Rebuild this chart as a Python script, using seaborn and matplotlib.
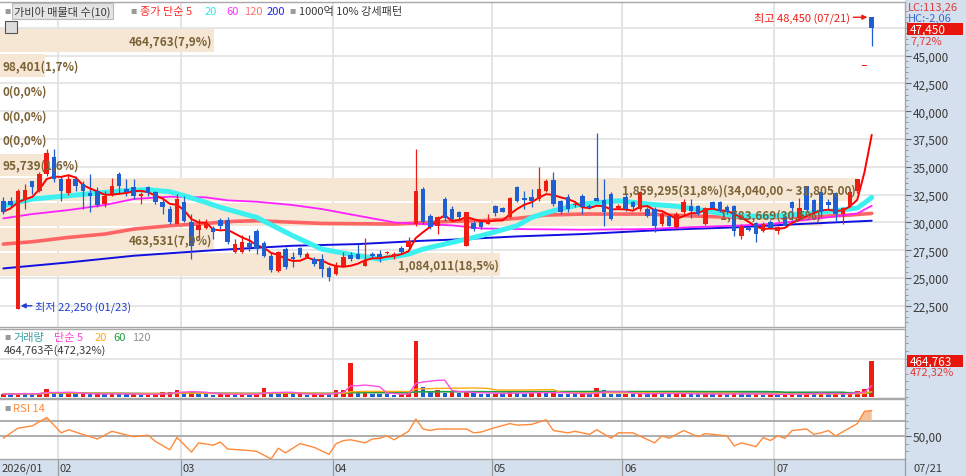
import numpy as np
import pandas as pd
import matplotlib
matplotlib.use('Agg')
import matplotlib.pyplot as plt
import matplotlib.transforms as mtrans
from matplotlib.patches import Rectangle
import seaborn as sns

# ---------------- data ----------------
month_labels = ['2026/01', '02', '03', '04', '05', '06', '07']
month_start = [0, 8, 25, 46, 68, 86, 107]
last_date = '07/21'

opens = [31950, 31950, 22250, 32040, 33700, 32850, 34350, 35850,
         33900, 32640, 33900, 33450, 32640, 32850, 31650, 32550, 34350, 33000, 33150, 32400, 33150, 32700, 31800, 31200, 29850,
         31800, 30000, 29340, 29520, 29490, 30240, 30200, 27300, 27300, 28140, 29250, 28140, 27000, 25650, 27600, 26910, 27660, 26850, 26700, 26700, 25860,
         25350, 26040, 27060, 27150, 26100, 27150, 27150, 27240, 27000, 27660, 27750, 29850, 33000, 30600, 29640, 32100, 31200, 30900, 27900, 29940, 30000, 29850,
         31500, 31260, 30450, 33150, 32160, 32250, 32100, 32850, 33840, 31950, 32250, 31560, 32400, 31500, 32190, 32010, 32550, 31260,
         32250, 31800, 31200, 31200, 31200, 29850, 30600, 29600, 30900, 31500, 31440, 29850, 31800, 31860, 31350, 31500, 28800, 29460, 29910, 29250, 30060,
         29250, 30450, 31860, 30400, 33250, 32040, 32700, 31800, 32640, 30755, 31500, 32800, 44050, 48450]
highs = [32250, 32250, 33000, 33450, 33760, 34560, 36600, 36600,
         34200, 34350, 34200, 33700, 34350, 33150, 32850, 33950, 34500, 33900, 33900, 32700, 33300, 32850, 32100, 31500, 32550,
         32400, 30750, 30300, 30300, 29700, 30360, 30450, 28500, 28860, 28860, 29400, 28350, 27240, 27450, 27750, 27300, 27750, 27300, 26850, 27150, 26040,
         26400, 27360, 27360, 28050, 28560, 27300, 27540, 27450, 27300, 27900, 28650, 36600, 33150, 30750, 30600, 32250, 31500, 31050, 30900, 30150, 30150, 30750,
         31560, 31350, 32250, 33300, 32850, 33000, 34950, 33900, 34560, 32040, 32550, 31800, 32550, 31650, 38040, 33900, 32700, 31650,
         32550, 31950, 32850, 31350, 31350, 30900, 30750, 30900, 32100, 32100, 31560, 31350, 31950, 31950, 31560, 31560, 29850, 29700, 30000, 30000, 30240,
         29700, 30600, 31950, 32150, 33300, 32100, 32760, 32100, 32700, 31350, 32950, 33900, 44050, 48450]
lows = [30750, 31350, 22250, 31200, 32560, 32700, 34200, 33600,
        31950, 32500, 32850, 31200, 30900, 31350, 31350, 32400, 32550, 32400, 32100, 31650, 32400, 31650, 30750, 29850, 29850,
        30000, 26700, 28500, 29400, 28500, 29400, 28050, 27240, 27240, 27450, 27150, 26850, 25500, 25560, 25800, 25950, 26850, 26760, 26100, 25050, 24750,
        25260, 25950, 26550, 26700, 26100, 26850, 26460, 27150, 26700, 27240, 27540, 29700, 29850, 29400, 28950, 30150, 30150, 30300, 27900, 29250, 29400, 29850,
        30600, 30900, 30360, 31800, 31200, 31350, 31950, 32700, 31500, 30750, 30900, 31350, 30750, 31200, 31900, 29700, 30240, 31200,
        31050, 31200, 31050, 30450, 29100, 29700, 29640, 29460, 30750, 30360, 30660, 29760, 31200, 30900, 30750, 28800, 28500, 29250, 28260, 29100, 29400,
        28950, 29640, 30200, 30200, 31050, 30750, 30450, 31200, 30150, 29850, 31350, 32650, 44050, 45900]
closes = [30960, 31560, 32850, 32940, 33160, 34350, 36210, 33900,
          32850, 33900, 33300, 32850, 32340, 31560, 32400, 33300, 33250, 32700, 32400, 32550, 32650, 31800, 31350, 30000, 32100,
          30150, 27900, 29790, 29910, 29100, 29700, 28200, 28050, 28200, 27750, 27600, 27000, 25740, 27300, 25950, 26700, 27060, 27150, 26250, 25800, 25050,
          26100, 26850, 26700, 26750, 26550, 27000, 26910, 27360, 27120, 27300, 28350, 32850, 30000, 29550, 30450, 30360, 30300, 30450, 30900, 29400, 29550, 30150,
          30840, 30960, 32160, 31950, 32040, 31950, 33000, 33750, 31650, 30900, 31200, 31680, 31350, 31320, 31950, 30900, 30300, 31500,
          31200, 31350, 32700, 30600, 29700, 30750, 29700, 30800, 31860, 31050, 30750, 31260, 31260, 31050, 30900, 29250, 29700, 29310, 28950, 29850, 29460,
          29550, 29700, 31250, 31260, 31100, 30900, 30900, 31560, 30750, 31265, 32700, 33880, 44050, 47450]
volumes = [35000, 28000, 52000, 45000, 30000, 48000, 95739, 60000,
           42000, 50000, 33000, 38000, 31000, 40000, 36000, 44000, 38000, 30000, 34000, 26000, 30000, 41000, 57000, 57000, 89000,
           62000, 70000, 40000, 30000, 25000, 34000, 38000, 30000, 36000, 28000, 33000, 110000, 66000, 40000, 45000, 30000, 35000, 28000, 31000, 40000, 36000,
           90000, 92000, 447000, 60000, 75000, 40000, 36000, 30000, 27000, 33000, 45000, 736000, 124000, 80000, 93000, 55000, 60000, 45000, 70000, 48000, 40000, 36000,
           42000, 38000, 65000, 55000, 40000, 45000, 70000, 52000, 60000, 40000, 36000, 30000, 38000, 33000, 115000, 89000, 42000, 35000,
           40000, 33000, 45000, 38000, 50000, 42000, 36000, 40000, 45000, 33000, 30000, 38000, 32000, 36000, 30000, 48000, 42000, 30000, 36000, 28000, 32000,
           26000, 33000, 45000, 38000, 52000, 40000, 48000, 30000, 45000, 36000, 55000, 70000, 98401, 464763]

ma20_idx = [0, 4, 9, 14, 18, 20, 23, 25, 28, 30, 35, 40, 44, 49, 52, 56, 58, 62, 66, 71, 73, 76, 80, 85, 89, 93, 97, 101, 106, 110, 115, 118, 119, 120]
ma20_val = [31500, 32100, 32400, 32700, 32910, 32940, 32760, 32400, 31800, 31350, 30450, 28800, 27600, 27000, 26700, 27150, 27600, 28200, 28800, 29700,
            30450, 31050, 31650, 31950, 31650, 31450, 31050, 30600, 30540, 30750, 31050, 31300, 31750, 32250]
ma60_idx = [0, 4, 9, 14, 18, 23, 28, 31, 35, 40, 44, 49, 54, 58, 62, 66, 71, 80, 89, 93, 101, 106, 110, 115, 118, 120]
ma60_val = [30360, 30750, 31110, 31560, 32100, 32310, 32250, 31980, 31860, 31560, 31200, 30600, 30000, 29850, 29730, 29460, 29400, 29340, 29400, 29520,
            29700, 29850, 30150, 30540, 30800, 31500]
ma120_idx = [0, 4, 9, 14, 18, 23, 28, 32, 35, 44, 54, 62, 66, 71, 75, 80, 89, 93, 101, 110, 117, 120]
ma120_val = [28050, 28260, 28650, 28950, 29400, 29700, 29910, 30100, 30150, 29910, 29850, 30100, 30150, 30360, 30660, 30750, 30750, 30630, 30450, 30450,
             30660, 30810]
ma200_idx = [0, 9, 18, 28, 31, 40, 49, 58, 62, 71, 80, 89, 93, 101, 110, 120]
ma200_val = [25860, 26400, 27000, 27450, 27570, 27900, 28050, 28350, 28450, 28740, 28950, 29250, 29370, 29550, 29850, 30150]

rsi_idx = [0, 2, 4, 6, 8, 9, 13, 15, 18, 20, 21, 23, 24, 26, 27, 29, 30, 31, 34, 35, 37, 38, 39, 41, 43, 45, 46, 47, 48, 50, 51, 52, 53, 54, 56, 57,
           58, 59, 60, 64, 65, 66, 68, 70, 71, 73, 75, 76, 78, 79, 81, 82, 84, 85, 87, 90, 91, 92, 94, 96, 97, 100, 101, 102, 104, 105, 106, 107,
           108, 109, 111, 112, 113, 114, 115, 118, 119, 120]
rsi_val = [47, 60, 63, 74, 54, 58, 46, 56, 49, 51, 43, 32, 48, 29, 41, 38, 42, 33, 31, 30, 20, 34, 28, 40, 35, 26, 40, 44, 45, 41, 46, 47, 50, 45, 56, 72,
           59, 57, 59, 59, 54, 55, 61, 66, 64, 65, 71, 57, 54, 56, 52, 58, 47, 54, 54, 41, 50, 47, 57, 49, 53, 50, 37, 41, 36, 48, 44, 50,
           47, 57, 59, 52, 54, 57, 50, 66, 82, 83]

band_lo = [25100, 27335, 29570, 31805, 34040, 36275, 38510, 40745, 42980, 45215]
band_hi = [27335, 29570, 31805, 34040, 36275, 38510, 40745, 42980, 45215, 47450]
band_vol = [1084011, 463531, 1783669, 1859295, 95739, 0, 0, 0, 98401, 464763]

price_ticks = [22500, 25000, 27500, 30000, 32500, 35000, 37500, 40000, 42500, 45000]

# ---------------- style ----------------
sns.set_theme(style='white')
plt.rcParams['font.family'] = ['Noto Sans CJK KR', 'DejaVu Sans']
plt.rcParams['axes.unicode_minus'] = False

W, H = 966, 477
fig = plt.figure(figsize=(W / 100, H / 100), dpi=100)
fig.patch.set_facecolor('white')

def fx(px):
    return px / W

def fy(py):
    return 1 - py / H

STRIP = '#d5e0ee'
GRID = '#e2e2e2'
BORDER = '#a8a8a8'
RED = '#ee1c12'
BLUE = '#1f5fd2'
TXT = '#3a3a3a'
BROWN = '#7b6236'

# background strips (right axis strip and bottom date strip)
fig.patches.append(Rectangle((fx(905), 0), fx(61), 1, transform=fig.transFigure, facecolor=STRIP, edgecolor='none', zorder=-5))
fig.patches.append(Rectangle((0, 0), 1, 17 / H, transform=fig.transFigure, facecolor=STRIP, edgecolor='none', zorder=-5))

ax = fig.add_axes([0, fy(328), fx(905), (328 - 3) / H])
axv = fig.add_axes([0, fy(399), fx(905), (399 - 330) / H], sharex=ax)
axr = fig.add_axes([0, fy(460), fx(905), (460 - 400) / H], sharex=ax)

N = len(closes)
x = np.arange(N)
step = 7.237
xlim = (-3.3 / step, (905 - 3.3) / step)

for a in (ax, axv, axr):
    a.set_facecolor('white')
    a.set_xlim(*xlim)
    for s in ('top', 'bottom', 'right'):
        a.spines[s].set_color(BORDER)
        a.spines[s].set_linewidth(1.0)
    a.spines['left'].set_visible(False)
    a.yaxis.tick_right()
    a.tick_params(axis='x', bottom=False, labelbottom=False)
    for b in month_start[1:]:
        a.axvline(b - 0.5, color=GRID, lw=1.3, zorder=0)

# ---------------- main price panel ----------------
ax.set_ylim(20593, 49821)
for p in range(22500, 50000, 2500):
    ax.axhline(p, color=GRID, lw=1.2, zorder=0)

max_band = max(band_vol)
total_band = sum(band_vol)
for lo, hi, v in zip(band_lo, band_hi, band_vol):
    frac = v / max_band * 0.948
    if v > 0:
        ax.axhspan(lo + 90, hi - 90, xmin=0, xmax=frac, facecolor='#f5e7d4', edgecolor='none', zorder=0.5)
    pct = v / total_band * 100
    label = f"{v:,}({pct:.1f}%)"
    if v == max_band:
        label += f"({hi:,.2f} ~ {lo:,.2f})"
    label = label.replace('.', ',')
    yc = (lo + hi) / 2
    if frac > 0.2:
        ax.text(frac - 0.002, yc, label, transform=mtrans.blended_transform_factory(ax.transAxes, ax.transData),
                ha='right', va='center', fontsize=8.5, color=BROWN, fontweight='bold', zorder=6)
    else:
        ax.text(0.003, yc, label, transform=mtrans.blended_transform_factory(ax.transAxes, ax.transData),
                ha='left', va='center', fontsize=8.5, color=BROWN, fontweight='bold', zorder=6)

# moving averages
sns.lineplot(x=ma200_idx, y=ma200_val, ax=ax, color='#1010e0', linewidth=1.4, legend=False, zorder=2)
sns.lineplot(x=ma120_idx, y=ma120_val, ax=ax, color='#ff6464', linewidth=2.6, legend=False, zorder=2)
sns.lineplot(x=ma60_idx, y=ma60_val, ax=ax, color='#ff20ff', linewidth=1.3, legend=False, zorder=2)
sns.lineplot(x=ma20_idx, y=ma20_val, ax=ax, color='#3cf0f0', linewidth=3.6, legend=False, zorder=2)

# candles
O = np.array(opens); Hh = np.array(highs); L = np.array(lows); C = np.array(closes)
up = C >= O
cols = np.where(up, RED, BLUE)
ax.vlines(x, L, Hh, colors=cols, lw=0.9, zorder=4)
ax.bar(x, np.maximum(np.abs(C - O), 80), bottom=np.minimum(O, C), width=0.62, color=cols, linewidth=0, zorder=5)

ma5 = pd.Series(closes).rolling(5, min_periods=1).mean()
sns.lineplot(x=x, y=ma5.values, ax=ax, color='#ff0000', linewidth=1.4, legend=False, zorder=4.5)

ax.set_yticks(price_ticks)
ax.set_yticklabels([f"{p:,}" for p in price_ticks])
ax.set_yticks(np.arange(21000, 49500, 500), minor=True)
ax.tick_params(axis='y', which='major', direction='out', length=4, width=0.8, color='#666666',
               labelsize=8.5, labelcolor=TXT, pad=1.5, right=True, left=False)
ax.tick_params(axis='y', which='minor', direction='out', length=2, width=0.6, color='#888888', right=True, left=False)
ax.set_xlabel(''); ax.set_ylabel('')

# high / low annotations
imax = int(np.argmax(Hh)); imin = int(np.argmin(L))
ax.annotate(f"최고 {Hh[imax]:,} ({last_date})", xy=(imax - 0.6, Hh[imax]), xytext=(imax - 3.0, Hh[imax]),
            ha='right', va='center', fontsize=8, color=RED,
            arrowprops=dict(arrowstyle='-|>', color=RED, lw=1.0, mutation_scale=7, shrinkA=0, shrinkB=0), zorder=7)
ax.annotate(f"최저 {L[imin]:,} (01/23)", xy=(imin + 0.4, L[imin] + 250), xytext=(imin + 2.4, L[imin] + 250),
            ha='left', va='center', fontsize=8, color='#1f3fd0',
            arrowprops=dict(arrowstyle='-|>', color='#1f3fd0', lw=1.0, mutation_scale=7, shrinkA=0, shrinkB=0), zorder=7)

# ---------------- volume panel ----------------
axv.set_ylim(-17000, 889000)
axv.axhline(500000, color=GRID, lw=1.2, zorder=0)
V = np.array(volumes)
vup = np.concatenate([[True], V[1:] >= V[:-1]])
vcols = np.where(vup, RED, BLUE)
axv.bar(x, V, width=0.62, color=vcols, linewidth=0, zorder=3)
vs = pd.Series(volumes)
sns.lineplot(x=x, y=vs.rolling(120, min_periods=1).mean().values, ax=axv, color='#9a9a9a', linewidth=1.0, legend=False, zorder=4)
sns.lineplot(x=x, y=vs.rolling(60, min_periods=1).mean().values, ax=axv, color='#1e9e3e', linewidth=1.1, legend=False, zorder=4)
sns.lineplot(x=x, y=vs.rolling(20, min_periods=1).mean().values, ax=axv, color='#ffaa10', linewidth=1.0, legend=False, zorder=4)
sns.lineplot(x=x, y=vs.rolling(5, min_periods=1).mean().values, ax=axv, color='#ff50e0', linewidth=1.0, legend=False, zorder=4)
axv.set_yticks([])
axv.set_yticks(np.arange(0, 900000, 100000), minor=True)
axv.tick_params(axis='y', which='minor', direction='out', length=2, width=0.6, color='#888888', right=True, left=False)
axv.set_xlabel(''); axv.set_ylabel('')

# ---------------- RSI panel ----------------
axr.set_ylim(20, 98)
axr.axhline(70, color='#a0a0a0', lw=1.2, zorder=1)
axr.axhline(50, color='#a0a0a0', lw=1.2, zorder=1)
sns.lineplot(x=rsi_idx, y=rsi_val, ax=axr, color='#ff8a3a', linewidth=1.0, legend=False, zorder=3)
ri = np.array(rsi_idx, dtype=float); rv = np.array(rsi_val, dtype=float)
axr.fill_between(ri, 70, rv, where=rv > 70, interpolate=True, color='#f7b98e', alpha=0.9, linewidth=0, zorder=2)
axr.set_yticks([50])
axr.set_yticklabels(['50,00'])
axr.set_yticks([30, 40, 60, 70, 80, 90], minor=True)
axr.tick_params(axis='y', which='major', direction='out', length=4, width=0.8, color='#666666',
                labelsize=8.5, labelcolor=TXT, pad=1.5, right=True, left=False)
axr.tick_params(axis='y', which='minor', direction='out', length=2, width=0.6, color='#888888', right=True, left=False)
axr.set_xlabel(''); axr.set_ylabel('')

# date strip
blend = mtrans.blended_transform_factory(axr.transData, axr.transAxes)
for lab, b in zip(month_labels, month_start):
    if b > 0:
        axr.plot([b - 0.5, b - 0.5], [0, -17 / 60], transform=blend, color='#9a9a9a', lw=0.9, clip_on=False)
    axr.text(b - 0.5 + 0.3, -9 / 60, lab, transform=blend, ha='left', va='center', fontsize=8, color=TXT, clip_on=False)
fig.text(fx(914), fy(469), last_date, ha='left', va='center', fontsize=8, color=TXT)
fig.lines.append(plt.Line2D([fx(905), fx(905)], [0, fy(460)], transform=fig.transFigure, color='#9a9a9a', lw=0.9))

# ---------------- header texts ----------------
def bullet(px, py):
    fig.text(fx(px), fy(py), '■', ha='left', va='center', fontsize=4.5, color='#9a9a9a')

bullet(4, 12)
fig.text(fx(14), fy(12), '가비아 매물대 수(10)', ha='left', va='center', fontsize=8, color=TXT,
         bbox=dict(boxstyle='square,pad=0.18', fc='#e4e4e4', ec='#b8b8b8', lw=0.8))
bullet(130, 12)
fig.text(fx(140), fy(12), '종가 단순 5', ha='left', va='center', fontsize=8, color='#ff2a2a')
fig.text(fx(205), fy(12), '20', ha='left', va='center', fontsize=8, color='#30e8f0')
fig.text(fx(226), fy(12), '60', ha='left', va='center', fontsize=8, color='#ff30ff')
fig.text(fx(244), fy(12), '120', ha='left', va='center', fontsize=8, color='#ff7070')
fig.text(fx(267), fy(12), '200', ha='left', va='center', fontsize=8, color='#2020f0')
bullet(289, 12)
fig.text(fx(299), fy(12), '1000억 10% 강세패턴', ha='left', va='center', fontsize=8, color=TXT)
fig.patches.append(Rectangle((fx(5), fy(34)), fx(12), 12 / H, transform=fig.transFigure, facecolor='#dcdcdc', edgecolor='#555555', lw=0.8, zorder=5))

bullet(4, 338)
fig.text(fx(13), fy(338), '거래량', ha='left', va='center', fontsize=8, color='#3a9ea0')
fig.text(fx(54), fy(338), '단순 5', ha='left', va='center', fontsize=8, color='#ff40d8')
fig.text(fx(95), fy(338), '20', ha='left', va='center', fontsize=8, color='#ffaa10')
fig.text(fx(113), fy(338), '60', ha='left', va='center', fontsize=8, color='#1e9e3e')
fig.text(fx(132), fy(338), '120', ha='left', va='center', fontsize=8, color='#909090')
vol_ratio = volumes[-1] / volumes[-2] * 100
fig.text(fx(4), fy(351), f"{volumes[-1]:,}주({vol_ratio:.2f}%)".replace('.', ','), ha='left', va='center', fontsize=8, color=TXT)

bullet(4, 409)
fig.text(fx(13), fy(409), 'RSI 14', ha='left', va='center', fontsize=8, color='#ff8a3a')

# ---------------- right strip labels ----------------
chg = (closes[-1] / closes[-2] - 1) * 100
fig.text(fx(908), fy(8), 'LC:113,26', ha='left', va='center', fontsize=8, color='#e03a3a')
fig.text(fx(908), fy(19), 'HC:-2,06', ha='left', va='center', fontsize=8, color='#3a6ad0')
fig.patches.append(Rectangle((fx(907), fy(36)), fx(56), 12 / H, transform=fig.transFigure, facecolor='#e8150c', edgecolor='none', zorder=3))
fig.text(fx(910), fy(30), f"{closes[-1]:,}", ha='left', va='center', fontsize=8.5, color='white', zorder=4)
fig.text(fx(910), fy(42), f"{chg:.2f}%".replace('.', ','), ha='left', va='center', fontsize=8, color='#e03a3a')

fig.patches.append(Rectangle((fx(907), fy(368)), fx(56), 12 / H, transform=fig.transFigure, facecolor='#e8150c', edgecolor='none', zorder=3))
fig.text(fx(910), fy(362), f"{volumes[-1]:,}", ha='left', va='center', fontsize=8.5, color='white', zorder=4)
fig.text(fx(910), fy(373), f"{vol_ratio:.2f}%".replace('.', ','), ha='left', va='center', fontsize=8, color='#e03a3a')

fig.savefig('out.png', dpi=100, facecolor='white')
